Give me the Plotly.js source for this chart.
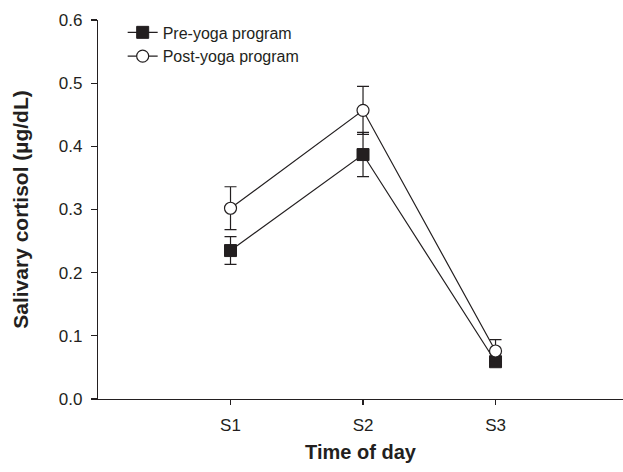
<!DOCTYPE html>
<html>
<head>
<meta charset="utf-8">
<script src="https://cdn.plot.ly/plotly-3.0.1.min.js"></script>
<style>html,body{margin:0;padding:0;background:#fff;}#chart{width:623px;height:472px;}</style>
</head>
<body>
<div id="chart"></div>
<script>
var categories = ["S1", "S2", "S3"];
var positions = [1, 2, 3];
var preValues = [0.235, 0.387, 0.059];
var preErrors = [0.022, 0.035, 0.004];
var postValues = [0.302, 0.457, 0.076];
var postErrors = [0.034, 0.038, 0.018];
var yTicks = [0, 0.1, 0.2, 0.3, 0.4, 0.5, 0.6];
var yTickLabels = ["0.0", "0.1", "0.2", "0.3", "0.4", "0.5", "0.6"];

var ink = "#231f20";
var font = "Liberation Sans, Arial, sans-serif";

var pre = {
  x: positions, y: preValues, name: "Pre-yoga program",
  type: "scatter", mode: "lines+markers",
  line: {color: ink, width: 1.2},
  marker: {symbol: "square", size: 12, color: ink, line: {color: ink, width: 1}},
  error_y: {type: "data", array: preErrors, visible: true, color: ink, thickness: 1.2, width: 6}
};
var post = {
  x: positions, y: postValues, name: "Post-yoga program",
  type: "scatter", mode: "lines+markers",
  line: {color: ink, width: 1.2},
  marker: {symbol: "circle", size: 12, color: "#ffffff", line: {color: ink, width: 1.2}},
  error_y: {type: "data", array: postErrors, visible: true, color: ink, thickness: 1.2, width: 6}
};

var layout = {
  width: 623, height: 472,
  margin: {l: 98, r: 0, t: 20, b: 72.5},
  paper_bgcolor: "#ffffff", plot_bgcolor: "#ffffff",
  font: {family: font, color: ink, size: 16},
  showlegend: true,
  legend: {x: 0.047, y: 1.012, xanchor: "left", yanchor: "top",
           bgcolor: "rgba(0,0,0,0)", font: {size: 16, color: ink}, tracegroupgap: 0},
  xaxis: {
    range: [0, 3.962], tickvals: positions, ticktext: categories,
    showgrid: false, zeroline: false, showline: true, linecolor: ink, linewidth: 1.2,
    ticks: "outside", ticklen: 5, tickcolor: ink, tickwidth: 1.2, ticklabelstandoff: 5,
    tickfont: {size: 17, color: ink},
    title: {text: "<b>Time of day</b>", font: {size: 20, color: ink}, standoff: 11}
  },
  yaxis: {
    range: [0, 0.6], tickvals: yTicks, ticktext: yTickLabels,
    showgrid: false, zeroline: false, showline: true, linecolor: ink, linewidth: 1.2,
    ticks: "outside", ticklen: 6, tickcolor: ink, tickwidth: 1.2, ticklabelstandoff: 5,
    tickfont: {size: 17, color: ink},
    title: {text: "<b>Salivary cortisol (µg/dL)</b>", font: {size: 21, color: ink}, standoff: 24}
  }
};

Plotly.newPlot("chart", [pre, post], layout, {displayModeBar: false, staticPlot: true});
</script>
</body>
</html>
